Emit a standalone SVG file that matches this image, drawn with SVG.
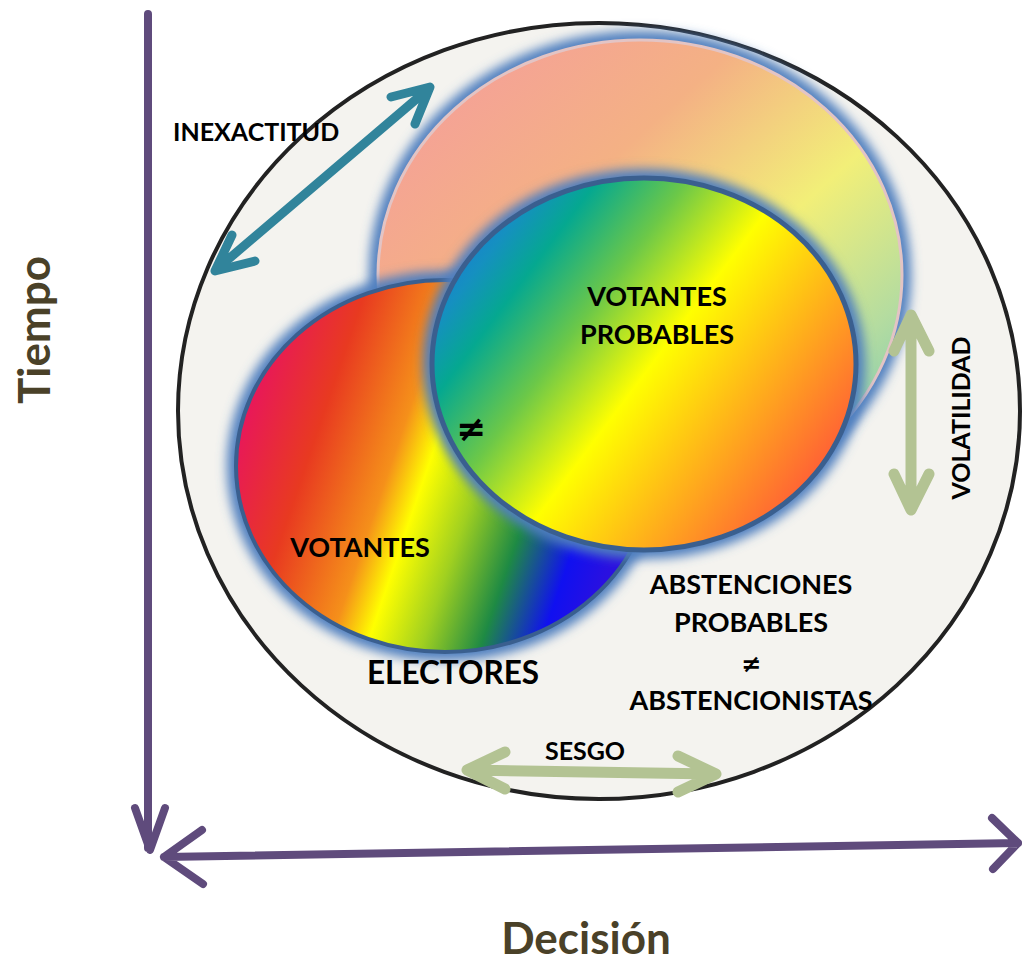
<svg xmlns="http://www.w3.org/2000/svg" width="1022" height="961" viewBox="0 0 1022 961">
<style>
.t{font-family:Lato,"Open Sans","DejaVu Sans",sans-serif;font-weight:bold;fill:#000}
.ne{font-family:"DejaVu Sans",sans-serif;font-weight:bold;fill:#000}
.ax{font-family:Lato,"Open Sans","DejaVu Sans",sans-serif;font-weight:bold;fill:#4a4128;font-size:44px}
.purple{stroke:#5f4b7c;stroke-width:8;fill:none;stroke-linecap:round;stroke-linejoin:round}
.teal{stroke:#31849b;stroke-width:9;fill:none;stroke-linecap:round;stroke-linejoin:round}
.sage{stroke:#b3c393;stroke-width:11;fill:none;stroke-linecap:round;stroke-linejoin:round}
.glow{fill:none;stroke:#4f7fbf;stroke-width:18;filter:url(#blur)}
</style>
<defs>
<filter id="blur" x="-20%" y="-20%" width="140%" height="140%"><feGaussianBlur stdDeviation="5.5"/></filter>
<linearGradient id="pink" x1="0" y1="0" x2="1" y2="1">
<stop offset="0" stop-color="#f59aa0"/>
<stop offset="0.35" stop-color="#f4b184"/>
<stop offset="0.58" stop-color="#f2ef78"/>
<stop offset="0.78" stop-color="#b4dca0"/>
<stop offset="1" stop-color="#5fc0c0"/>
</linearGradient>
<linearGradient id="rainbow" gradientUnits="userSpaceOnUse" x1="340.6" y1="116.3" x2="719" y2="245.5">
<stop offset="0" stop-color="#e8155e"/>
<stop offset="0.2" stop-color="#e83a20"/>
<stop offset="0.4" stop-color="#f5901a"/>
<stop offset="0.49" stop-color="#ffff00"/>
<stop offset="0.62" stop-color="#a0d020"/>
<stop offset="0.76" stop-color="#1e8a44"/>
<stop offset="0.9" stop-color="#1010f0"/>
<stop offset="1" stop-color="#2a10e0"/>
</linearGradient>
<linearGradient id="prob" gradientUnits="userSpaceOnUse" x1="400" y1="300" x2="784" y2="588">
<stop offset="0" stop-color="#1a78d8"/>
<stop offset="0.09" stop-color="#1590c0"/>
<stop offset="0.18" stop-color="#05a890"/>
<stop offset="0.33" stop-color="#6cc848"/>
<stop offset="0.5" stop-color="#ffff00"/>
<stop offset="0.75" stop-color="#ffa020"/>
<stop offset="1" stop-color="#ff4040"/>
</linearGradient>
</defs>

<g id="electores">
<ellipse cx="599" cy="411" rx="421" ry="388" fill="#f4f3ef" stroke="#222" stroke-width="4"/>
</g>

<g id="probables-outer">
<ellipse cx="640" cy="275" rx="262" ry="235" class="glow" stroke="#8fb0d6"/>
<ellipse cx="640" cy="275" rx="262" ry="235" fill="url(#pink)" stroke="#e3c4c4" stroke-width="3"/>
</g>

<g id="votantes">
<ellipse cx="445" cy="466" rx="209" ry="186" class="glow"/>
<ellipse cx="445" cy="466" rx="209" ry="186" fill="url(#rainbow)" stroke="#3a5f8f" stroke-width="4"/>
</g>

<g id="votantes-probables">
<ellipse cx="644" cy="364" rx="212" ry="186" class="glow"/>
<ellipse cx="644" cy="364" rx="212" ry="186" fill="url(#prob)" stroke="#3a5f8f" stroke-width="5"/>
</g>

<g id="connectors">
<path class="purple" d="M148 14 V848 M135 808 L150 850 L165 808"/>
<path class="purple" d="M164 857 L1018 843 M202 830 L164 857 L203 884 M992 818 L1018 843 L993 869"/>
<path class="teal" d="M218 268 L427 90 M391 97 L430 87 L415 124 M232 235 L215 271 L255 261"/>
<path class="sage" d="M911 318 V508 M894 351 L911 315 L929 351 M894 474 L911 510 L929 474"/>
<path class="sage" d="M468 770 L714 774 M505 752 L467 770 L505 789 M678 756 L716 774 L678 792"/>
</g>

<g id="labels">
<text class="t" x="173" y="141" font-size="25">INEXACTITUD</text>
<text class="t" x="657" y="306" font-size="27" text-anchor="middle">VOTANTES</text>
<text class="t" x="657" y="344" font-size="27" text-anchor="middle">PROBABLES</text>
<text class="ne" x="471" y="441" font-size="36" text-anchor="middle">≠</text>
<text class="t" x="360" y="557" font-size="27" text-anchor="middle">VOTANTES</text>
<text class="t" x="453" y="684" font-size="31.5" text-anchor="middle">ELECTORES</text>
<text class="t" x="751" y="594" font-size="27" text-anchor="middle">ABSTENCIONES</text>
<text class="t" x="751" y="632" font-size="27" text-anchor="middle">PROBABLES</text>
<text class="ne" x="751" y="672" font-size="24" text-anchor="middle">≠</text>
<text class="t" x="751" y="710" font-size="27" text-anchor="middle">ABSTENCIONISTAS</text>
<text class="t" x="585" y="760" font-size="25" text-anchor="middle">SESGO</text>
<text class="t" x="0" y="0" font-size="25" text-anchor="middle" transform="translate(970,418) rotate(-90)">VOLATILIDAD</text>
<text class="ax" x="0" y="0" text-anchor="middle" transform="translate(50,330) rotate(-90)">Tiempo</text>
<text class="ax" x="586" y="954" text-anchor="middle">Decisión</text>
</g>
</svg>
